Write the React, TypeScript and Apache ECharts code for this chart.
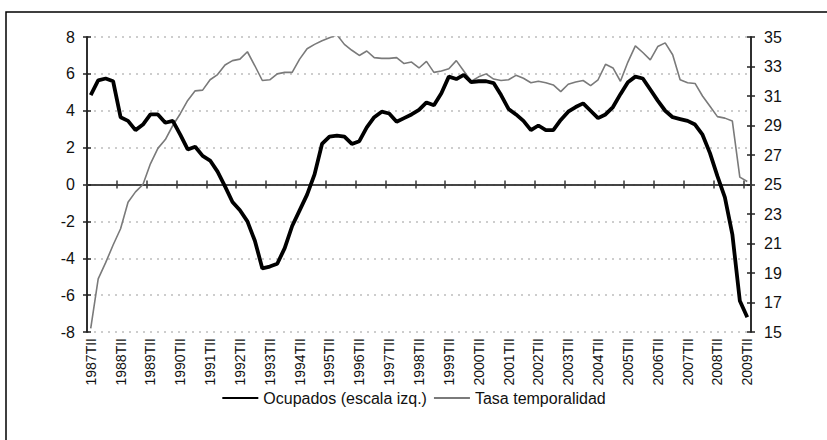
import React, { useEffect, useRef } from "react";
import * as echarts from "echarts";

const FONT = '"Liberation Sans", Arial, Helvetica, sans-serif';

// Quarter labels 1987TII .. 2009TII
const QUARTERS = ["I", "II", "III", "IV"];
const categories: string[] = [];
for (let y = 1987; y <= 2009; y++) {
  for (let q = 0; q < 4; q++) {
    if (y === 1987 && q < 1) continue;
    if (y === 2009 && q > 1) continue;
    categories.push(`${y}T${QUARTERS[q]}`);
  }
}

// Ocupados, variación anual (%), escala izquierda
const ocupados = [
  4.85, 5.65, 5.75, 5.6, 3.65, 3.45, 2.95, 3.25, 3.8, 3.8,
  3.35, 3.45, 2.7, 1.9, 2.05, 1.55, 1.3, 0.7, -0.1, -0.95,
  -1.4, -2.0, -3.05, -4.55, -4.45, -4.3, -3.45, -2.25, -1.4, -0.55,
  0.55, 2.2, 2.6, 2.65, 2.6, 2.2, 2.35, 3.1, 3.65, 3.95,
  3.85, 3.4, 3.6, 3.8, 4.05, 4.45, 4.3, 4.95, 5.85, 5.72,
  5.95, 5.55, 5.6, 5.6, 5.5, 4.85, 4.1, 3.8, 3.45, 2.95,
  3.2, 2.95, 2.95, 3.5, 3.95, 4.2, 4.4, 4.0, 3.6, 3.8,
  4.2, 4.9, 5.55, 5.85, 5.75, 5.15, 4.55, 4.0, 3.65, 3.55,
  3.45, 3.25, 2.7, 1.7, 0.45, -0.7, -2.7, -6.3, -7.2,
];

// Tasa de temporalidad (%), escala derecha
const tasa = [
  15.25, 18.6, 19.7, 20.9, 22.0, 23.8, 24.5, 25.0, 26.4, 27.45,
  28.05, 29.0, 29.8, 30.7, 31.35, 31.4, 32.1, 32.45, 33.1, 33.4,
  33.5, 34.0, 33.05, 32.05, 32.1, 32.5, 32.6, 32.6, 33.5, 34.2,
  34.5, 34.75, 34.95, 35.15, 34.5, 34.1, 33.75, 34.05, 33.6, 33.55,
  33.55, 33.6, 33.2, 33.3, 32.9, 33.35, 32.6, 32.7, 32.85, 33.4,
  32.7, 32.0, 32.3, 32.5, 32.15, 32.05, 32.1, 32.4, 32.2, 31.9,
  32.0, 31.9, 31.75, 31.3, 31.8, 31.95, 32.05, 31.7, 32.1, 33.15,
  32.9, 32.0, 33.3, 34.4, 33.95, 33.45, 34.35, 34.6, 33.8, 32.1,
  31.9, 31.85, 31.0, 30.3, 29.6, 29.5, 29.3, 25.5, 25.2,
];

const leftTicks = { min: -8, max: 8, interval: 2 };
const rightTicks = { min: 15, max: 35, interval: 2 };

const SERIES_NAMES = ["Ocupados (escala izq.)", "Tasa temporalidad"];

export default function App() {
  const ref = useRef<HTMLDivElement>(null);

  useEffect(() => {
    if (!ref.current) return;
    const chart = echarts.init(ref.current, undefined, { renderer: "svg" });

    const axisColor = "#222";
    const zeroColor = "#3a3a3a";

    const baseY = (t: { min: number; max: number; interval: number }, pos: "left" | "right") => ({
      type: "value" as const,
      min: t.min,
      max: t.max,
      interval: t.interval,
      position: pos,
      axisLine: { show: true, lineStyle: { color: axisColor, width: 1.5 } },
      axisTick: { show: true, length: 4, lineStyle: { color: axisColor, width: 1.5 } },
    });

    const baseX = {
      type: "category" as const,
      data: categories,
      boundaryGap: true,
      position: "bottom" as const,
    };

    chart.setOption({
      animation: false,
      backgroundColor: "#ffffff",
      textStyle: { fontFamily: FONT },
      grid: { left: 87, right: 76, top: 37, bottom: 108, containLabel: false },
      legend: {
        data: SERIES_NAMES,
        left: "center",
        top: 385,
        itemWidth: 36,
        itemHeight: 16,
        itemGap: 6,
        itemStyle: { opacity: 0 },
        textStyle: { fontSize: 16, color: "#111", fontFamily: FONT },
      },
      xAxis: [
        {
          ...baseX,
          axisLine: { show: false, onZero: false },
          axisTick: { show: false },
          axisLabel: {
            interval: 3,
            rotate: 90,
            fontSize: 14,
            margin: 6,
            color: "#111",
            fontFamily: FONT,
          },
          splitLine: { show: false },
        },
        {
          ...baseX,
          axisLine: { show: true, onZero: true, onZeroAxisIndex: 0, lineStyle: { color: zeroColor, width: 1.5 } },
          axisTick: { show: true, interval: 3, length: 4, inside: false, lineStyle: { color: zeroColor, width: 1.5 } },
          axisLabel: { show: false },
          splitLine: { show: false },
        },
        {
          ...baseX,
          axisLine: { show: true, onZero: true, onZeroAxisIndex: 0, lineStyle: { color: zeroColor, width: 1.5 } },
          axisTick: { show: true, interval: 3, length: 4, inside: true, lineStyle: { color: zeroColor, width: 1.5 } },
          axisLabel: { show: false },
          splitLine: { show: false },
        },
      ],
      yAxis: [
        {
          ...baseY(leftTicks, "left"),
          axisLabel: { fontSize: 16, margin: 12, color: "#111", fontFamily: FONT },
          splitLine: { show: true, lineStyle: { color: "#bdbdbd", type: [2, 5], width: 1.5 } },
        },
        {
          ...baseY(rightTicks, "right"),
          axisLabel: { fontSize: 16, margin: 13, color: "#111", fontFamily: FONT },
          splitLine: { show: false },
        },
        {
          ...baseY(leftTicks, "left"),
          axisTick: { show: true, inside: true, length: 4, lineStyle: { color: axisColor, width: 1.5 } },
          axisLabel: { show: false },
          splitLine: { show: false },
        },
        {
          ...baseY(rightTicks, "right"),
          axisTick: { show: true, inside: true, length: 4, lineStyle: { color: axisColor, width: 1.5 } },
          axisLabel: { show: false },
          splitLine: { show: false },
        },
      ],
      series: [
        {
          name: SERIES_NAMES[1],
          type: "line",
          xAxisIndex: 0,
          yAxisIndex: 1,
          data: tasa,
          symbol: "none",
          lineStyle: { color: "#7a7a7a", width: 1.6 },
          itemStyle: { color: "#7a7a7a" },
          z: 3,
        },
        {
          name: SERIES_NAMES[0],
          type: "line",
          xAxisIndex: 0,
          yAxisIndex: 0,
          data: ocupados,
          symbol: "none",
          lineStyle: { color: "#000000", width: 3.8 },
          itemStyle: { color: "#000000" },
          z: 4,
        },
      ],
      graphic: [
        {
          type: "rect",
          silent: true,
          z: 100,
          shape: { x: 6, y: 12, width: 900, height: 600 },
          style: { fill: "none", stroke: "#000", lineWidth: 1.5 },
        },
      ],
    });

    return () => chart.dispose();
  }, []);

  return (
    <div
      ref={ref}
      style={{ position: "fixed", left: 0, top: 0, width: 827, height: 440, background: "#fff" }}
    />
  );
}
